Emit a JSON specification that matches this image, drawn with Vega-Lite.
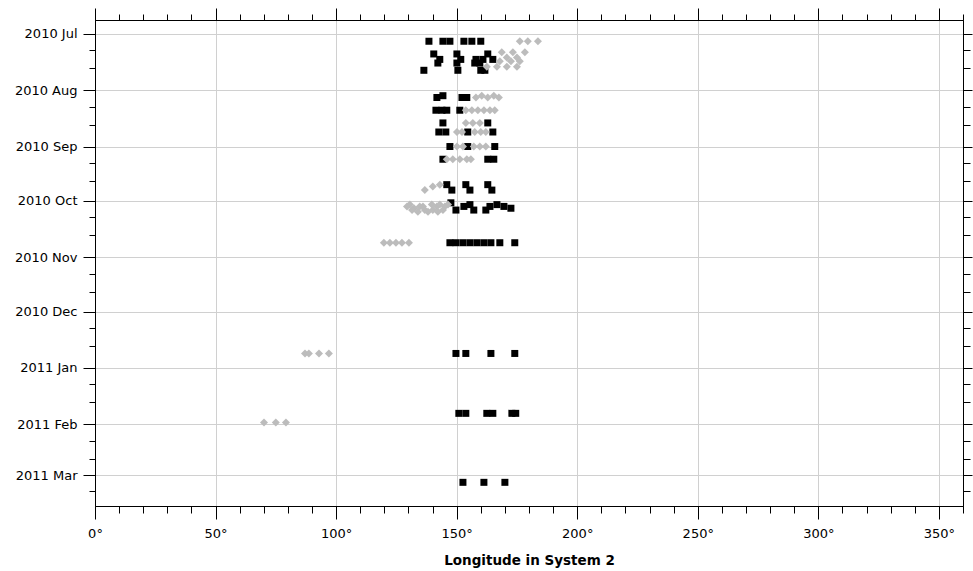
{
  "$schema": "https://vega.github.io/schema/vega-lite/v6.json",
  "width": 868,
  "height": 486,
  "autosize": "none",
  "padding": {"left": 95, "top": 20, "right": 10, "bottom": 65},
  "background": "white",
  "config": {
    "view": {"stroke": "#000000", "strokeWidth": 1},
    "font": "DejaVu Sans",
    "axis": {"labelFont": "DejaVu Sans", "titleFont": "DejaVu Sans", "labelColor": "#000000", "titleColor": "#000000", "domainColor": "#000000", "tickColor": "#000000", "tickWidth": 1}
  },
  "data": {"values": [
    {"series": "A", "longitude": 138.5, "date": "2010-07-05"},
    {"series": "A", "longitude": 144.3, "date": "2010-07-05"},
    {"series": "A", "longitude": 147.2, "date": "2010-07-05"},
    {"series": "A", "longitude": 153.0, "date": "2010-07-05"},
    {"series": "A", "longitude": 156.3, "date": "2010-07-05"},
    {"series": "A", "longitude": 160.0, "date": "2010-07-05"},
    {"series": "A", "longitude": 140.5, "date": "2010-07-12"},
    {"series": "A", "longitude": 150.1, "date": "2010-07-12"},
    {"series": "A", "longitude": 162.9, "date": "2010-07-12"},
    {"series": "A", "longitude": 143.0, "date": "2010-07-15"},
    {"series": "A", "longitude": 151.7, "date": "2010-07-15"},
    {"series": "A", "longitude": 158.0, "date": "2010-07-15"},
    {"series": "A", "longitude": 160.9, "date": "2010-07-15"},
    {"series": "A", "longitude": 165.0, "date": "2010-07-15"},
    {"series": "A", "longitude": 142.2, "date": "2010-07-17"},
    {"series": "A", "longitude": 150.1, "date": "2010-07-17"},
    {"series": "A", "longitude": 157.5, "date": "2010-07-17"},
    {"series": "A", "longitude": 159.6, "date": "2010-07-17"},
    {"series": "A", "longitude": 136.4, "date": "2010-07-21"},
    {"series": "A", "longitude": 150.5, "date": "2010-07-21"},
    {"series": "A", "longitude": 160.0, "date": "2010-07-21"},
    {"series": "A", "longitude": 161.7, "date": "2010-07-21"},
    {"series": "A", "longitude": 141.8, "date": "2010-08-05"},
    {"series": "A", "longitude": 144.3, "date": "2010-08-04"},
    {"series": "A", "longitude": 152.2, "date": "2010-08-05"},
    {"series": "A", "longitude": 154.2, "date": "2010-08-05"},
    {"series": "A", "longitude": 141.4, "date": "2010-08-12"},
    {"series": "A", "longitude": 143.9, "date": "2010-08-12"},
    {"series": "A", "longitude": 145.9, "date": "2010-08-12"},
    {"series": "A", "longitude": 151.3, "date": "2010-08-12"},
    {"series": "A", "longitude": 144.3, "date": "2010-08-19"},
    {"series": "A", "longitude": 162.9, "date": "2010-08-19"},
    {"series": "A", "longitude": 142.6, "date": "2010-08-24"},
    {"series": "A", "longitude": 145.5, "date": "2010-08-24"},
    {"series": "A", "longitude": 154.6, "date": "2010-08-24"},
    {"series": "A", "longitude": 165.0, "date": "2010-08-24"},
    {"series": "A", "longitude": 147.2, "date": "2010-09-01"},
    {"series": "A", "longitude": 154.6, "date": "2010-09-01"},
    {"series": "A", "longitude": 165.8, "date": "2010-09-01"},
    {"series": "A", "longitude": 144.3, "date": "2010-09-08"},
    {"series": "A", "longitude": 162.9, "date": "2010-09-08"},
    {"series": "A", "longitude": 165.4, "date": "2010-09-08"},
    {"series": "A", "longitude": 145.9, "date": "2010-09-22"},
    {"series": "A", "longitude": 148.0, "date": "2010-09-25"},
    {"series": "A", "longitude": 153.8, "date": "2010-09-22"},
    {"series": "A", "longitude": 155.5, "date": "2010-09-25"},
    {"series": "A", "longitude": 162.9, "date": "2010-09-22"},
    {"series": "A", "longitude": 164.6, "date": "2010-09-25"},
    {"series": "A", "longitude": 147.6, "date": "2010-10-02"},
    {"series": "A", "longitude": 149.7, "date": "2010-10-06"},
    {"series": "A", "longitude": 153.0, "date": "2010-10-04"},
    {"series": "A", "longitude": 155.5, "date": "2010-10-03"},
    {"series": "A", "longitude": 157.1, "date": "2010-10-06"},
    {"series": "A", "longitude": 162.1, "date": "2010-10-06"},
    {"series": "A", "longitude": 163.8, "date": "2010-10-04"},
    {"series": "A", "longitude": 166.7, "date": "2010-10-03"},
    {"series": "A", "longitude": 169.6, "date": "2010-10-04"},
    {"series": "A", "longitude": 172.5, "date": "2010-10-05"},
    {"series": "A", "longitude": 147.2, "date": "2010-10-24"},
    {"series": "A", "longitude": 149.7, "date": "2010-10-24"},
    {"series": "A", "longitude": 152.6, "date": "2010-10-24"},
    {"series": "A", "longitude": 155.5, "date": "2010-10-24"},
    {"series": "A", "longitude": 158.4, "date": "2010-10-24"},
    {"series": "A", "longitude": 161.3, "date": "2010-10-24"},
    {"series": "A", "longitude": 164.2, "date": "2010-10-24"},
    {"series": "A", "longitude": 167.9, "date": "2010-10-24"},
    {"series": "A", "longitude": 174.1, "date": "2010-10-24"},
    {"series": "A", "longitude": 149.7, "date": "2010-12-24"},
    {"series": "A", "longitude": 153.8, "date": "2010-12-24"},
    {"series": "A", "longitude": 164.2, "date": "2010-12-24"},
    {"series": "A", "longitude": 174.1, "date": "2010-12-24"},
    {"series": "A", "longitude": 150.9, "date": "2011-01-26"},
    {"series": "A", "longitude": 153.8, "date": "2011-01-26"},
    {"series": "A", "longitude": 162.5, "date": "2011-01-26"},
    {"series": "A", "longitude": 165.0, "date": "2011-01-26"},
    {"series": "A", "longitude": 172.9, "date": "2011-01-26"},
    {"series": "A", "longitude": 174.5, "date": "2011-01-26"},
    {"series": "A", "longitude": 152.6, "date": "2011-03-05"},
    {"series": "A", "longitude": 161.3, "date": "2011-03-05"},
    {"series": "A", "longitude": 170.0, "date": "2011-03-05"},
    {"series": "B", "longitude": 176.2, "date": "2010-07-05"},
    {"series": "B", "longitude": 179.5, "date": "2010-07-05"},
    {"series": "B", "longitude": 183.7, "date": "2010-07-05"},
    {"series": "B", "longitude": 168.7, "date": "2010-07-11"},
    {"series": "B", "longitude": 173.3, "date": "2010-07-11"},
    {"series": "B", "longitude": 178.3, "date": "2010-07-11"},
    {"series": "B", "longitude": 170.8, "date": "2010-07-14"},
    {"series": "B", "longitude": 175.0, "date": "2010-07-14"},
    {"series": "B", "longitude": 167.9, "date": "2010-07-16"},
    {"series": "B", "longitude": 172.5, "date": "2010-07-16"},
    {"series": "B", "longitude": 176.2, "date": "2010-07-16"},
    {"series": "B", "longitude": 162.5, "date": "2010-07-19"},
    {"series": "B", "longitude": 166.7, "date": "2010-07-19"},
    {"series": "B", "longitude": 170.8, "date": "2010-07-19"},
    {"series": "B", "longitude": 175.0, "date": "2010-07-19"},
    {"series": "B", "longitude": 158.0, "date": "2010-08-05"},
    {"series": "B", "longitude": 160.4, "date": "2010-08-04"},
    {"series": "B", "longitude": 162.9, "date": "2010-08-05"},
    {"series": "B", "longitude": 165.4, "date": "2010-08-04"},
    {"series": "B", "longitude": 167.5, "date": "2010-08-05"},
    {"series": "B", "longitude": 153.8, "date": "2010-08-12"},
    {"series": "B", "longitude": 156.3, "date": "2010-08-12"},
    {"series": "B", "longitude": 158.8, "date": "2010-08-12"},
    {"series": "B", "longitude": 161.3, "date": "2010-08-12"},
    {"series": "B", "longitude": 163.8, "date": "2010-08-12"},
    {"series": "B", "longitude": 165.8, "date": "2010-08-12"},
    {"series": "B", "longitude": 153.8, "date": "2010-08-19"},
    {"series": "B", "longitude": 156.7, "date": "2010-08-19"},
    {"series": "B", "longitude": 159.6, "date": "2010-08-19"},
    {"series": "B", "longitude": 150.1, "date": "2010-08-24"},
    {"series": "B", "longitude": 152.2, "date": "2010-08-24"},
    {"series": "B", "longitude": 157.5, "date": "2010-08-24"},
    {"series": "B", "longitude": 160.0, "date": "2010-08-24"},
    {"series": "B", "longitude": 162.1, "date": "2010-08-24"},
    {"series": "B", "longitude": 150.1, "date": "2010-09-01"},
    {"series": "B", "longitude": 152.6, "date": "2010-09-01"},
    {"series": "B", "longitude": 157.1, "date": "2010-09-01"},
    {"series": "B", "longitude": 159.6, "date": "2010-09-01"},
    {"series": "B", "longitude": 162.1, "date": "2010-09-01"},
    {"series": "B", "longitude": 145.9, "date": "2010-09-08"},
    {"series": "B", "longitude": 148.4, "date": "2010-09-08"},
    {"series": "B", "longitude": 151.3, "date": "2010-09-08"},
    {"series": "B", "longitude": 154.2, "date": "2010-09-08"},
    {"series": "B", "longitude": 155.9, "date": "2010-09-08"},
    {"series": "B", "longitude": 136.8, "date": "2010-09-25"},
    {"series": "B", "longitude": 140.1, "date": "2010-09-23"},
    {"series": "B", "longitude": 143.0, "date": "2010-09-22"},
    {"series": "B", "longitude": 130.6, "date": "2010-10-03"},
    {"series": "B", "longitude": 132.3, "date": "2010-10-05"},
    {"series": "B", "longitude": 134.7, "date": "2010-10-04"},
    {"series": "B", "longitude": 136.8, "date": "2010-10-06"},
    {"series": "B", "longitude": 139.7, "date": "2010-10-03"},
    {"series": "B", "longitude": 141.8, "date": "2010-10-04"},
    {"series": "B", "longitude": 143.0, "date": "2010-10-03"},
    {"series": "B", "longitude": 145.1, "date": "2010-10-04"},
    {"series": "B", "longitude": 129.4, "date": "2010-10-04"},
    {"series": "B", "longitude": 131.5, "date": "2010-10-06"},
    {"series": "B", "longitude": 133.9, "date": "2010-10-07"},
    {"series": "B", "longitude": 136.0, "date": "2010-10-04"},
    {"series": "B", "longitude": 138.1, "date": "2010-10-07"},
    {"series": "B", "longitude": 140.1, "date": "2010-10-06"},
    {"series": "B", "longitude": 142.2, "date": "2010-10-07"},
    {"series": "B", "longitude": 144.3, "date": "2010-10-06"},
    {"series": "B", "longitude": 146.4, "date": "2010-10-03"},
    {"series": "B", "longitude": 119.8, "date": "2010-10-24"},
    {"series": "B", "longitude": 122.3, "date": "2010-10-24"},
    {"series": "B", "longitude": 124.8, "date": "2010-10-24"},
    {"series": "B", "longitude": 127.3, "date": "2010-10-24"},
    {"series": "B", "longitude": 130.2, "date": "2010-10-24"},
    {"series": "B", "longitude": 87.1, "date": "2010-12-24"},
    {"series": "B", "longitude": 88.7, "date": "2010-12-24"},
    {"series": "B", "longitude": 92.9, "date": "2010-12-24"},
    {"series": "B", "longitude": 97.0, "date": "2010-12-24"},
    {"series": "B", "longitude": 70.1, "date": "2011-01-31"},
    {"series": "B", "longitude": 75.0, "date": "2011-01-31"},
    {"series": "B", "longitude": 79.2, "date": "2011-01-31"}
  ]},
  "layer": [
    {
      "mark": {"type": "point", "filled": true, "opacity": 1, "strokeWidth": 0},
      "encoding": {
        "x": {
          "field": "longitude", "type": "quantitative",
          "scale": {"domain": [0, 360], "nice": false, "zero": false},
          "axis": {
            "orient": "bottom",
            "values": [0,10,20,30,40,50,60,70,80,90,100,110,120,130,140,150,160,170,180,190,200,210,220,230,240,250,260,270,280,290,300,310,320,330,340,350,360],
            "labelExpr": "datum.value % 50 === 0 && datum.value < 360 ? datum.value + '°' : ''",
            "tickSize": {"condition": {"test": "datum.value % 50 === 0", "value": 13}, "value": 7},
            "grid": true,
            "gridColor": "#d0d0d0",
            "gridOpacity": {"condition": {"test": "datum.value % 50 === 0 && datum.value > 0 && datum.value < 360", "value": 1}, "value": 0},
            "labelFontSize": 13,
            "labelPadding": 8,
            "labelFlush": false,
            "title": "Longitude in System 2",
            "titleFontSize": 13.5,
            "titleFontWeight": "bold",
            "titlePadding": 13
          }
        },
        "y": {
          "field": "date", "type": "temporal",
          "scale": {"type": "utc", "reverse": true, "nice": false,
            "domain": [{"year": 2010, "month": 6, "date": 23, "hours": 7, "utc": true}, {"year": 2011, "month": 3, "date": 18, "hours": 1, "utc": true}]},
          "axis": {
            "orient": "left",
            "values": [
              {"year": 2010, "month": 7, "date": 1, "utc": true},
              {"year": 2010, "month": 7, "date": 10, "utc": true},
              {"year": 2010, "month": 7, "date": 20, "utc": true},
              {"year": 2010, "month": 8, "date": 1, "utc": true},
              {"year": 2010, "month": 8, "date": 10, "utc": true},
              {"year": 2010, "month": 8, "date": 20, "utc": true},
              {"year": 2010, "month": 9, "date": 1, "utc": true},
              {"year": 2010, "month": 9, "date": 10, "utc": true},
              {"year": 2010, "month": 9, "date": 20, "utc": true},
              {"year": 2010, "month": 10, "date": 1, "utc": true},
              {"year": 2010, "month": 10, "date": 10, "utc": true},
              {"year": 2010, "month": 10, "date": 20, "utc": true},
              {"year": 2010, "month": 11, "date": 1, "utc": true},
              {"year": 2010, "month": 11, "date": 10, "utc": true},
              {"year": 2010, "month": 11, "date": 20, "utc": true},
              {"year": 2010, "month": 12, "date": 1, "utc": true},
              {"year": 2010, "month": 12, "date": 10, "utc": true},
              {"year": 2010, "month": 12, "date": 20, "utc": true},
              {"year": 2011, "month": 1, "date": 1, "utc": true},
              {"year": 2011, "month": 1, "date": 10, "utc": true},
              {"year": 2011, "month": 1, "date": 20, "utc": true},
              {"year": 2011, "month": 2, "date": 1, "utc": true},
              {"year": 2011, "month": 2, "date": 10, "utc": true},
              {"year": 2011, "month": 2, "date": 20, "utc": true},
              {"year": 2011, "month": 3, "date": 1, "utc": true},
              {"year": 2011, "month": 3, "date": 10, "utc": true}
            ],
            "labelExpr": "utcdate(datum.value) === 1 ? utcFormat(datum.value, '%Y %b') : ''",
            "tickSize": {"condition": {"test": "utcdate(datum.value) === 1", "value": 12}, "value": 6},
            "grid": true,
            "gridColor": "#d0d0d0",
            "gridOpacity": {"condition": {"test": "utcdate(datum.value) === 1", "value": 1}, "value": 0},
            "labelFontSize": 13,
            "labelPadding": 6,
            "labelFlush": false,
            "labelOverlap": false,
            "title": null
          }
        },
        "color": {"field": "series", "type": "nominal", "legend": null,
          "scale": {"domain": ["A", "B"], "range": ["#000000", "#bcbcbc"]}},
        "shape": {"field": "series", "type": "nominal", "legend": null,
          "scale": {"domain": ["A", "B"], "range": ["square", "diamond"]}},
        "size": {"field": "series", "type": "nominal", "legend": null,
          "scale": {"domain": ["A", "B"], "range": [49, 64]}}
      }
    },
    {
      "mark": {"type": "point", "opacity": 0},
      "encoding": {
        "x": {
          "field": "longitude", "type": "quantitative",
          "axis": {
            "orient": "top",
            "values": [0,10,20,30,40,50,60,70,80,90,100,110,120,130,140,150,160,170,180,190,200,210,220,230,240,250,260,270,280,290,300,310,320,330,340,350,360],
            "labels": false,
            "grid": false,
            "tickSize": {"condition": {"test": "datum.value % 50 === 0", "value": 12}, "value": 6},
            "title": null
          }
        },
        "y": {
          "field": "date", "type": "temporal",
          "axis": {
            "orient": "right",
            "values": [
              {"year": 2010, "month": 7, "date": 1, "utc": true},
              {"year": 2010, "month": 7, "date": 10, "utc": true},
              {"year": 2010, "month": 7, "date": 20, "utc": true},
              {"year": 2010, "month": 8, "date": 1, "utc": true},
              {"year": 2010, "month": 8, "date": 10, "utc": true},
              {"year": 2010, "month": 8, "date": 20, "utc": true},
              {"year": 2010, "month": 9, "date": 1, "utc": true},
              {"year": 2010, "month": 9, "date": 10, "utc": true},
              {"year": 2010, "month": 9, "date": 20, "utc": true},
              {"year": 2010, "month": 10, "date": 1, "utc": true},
              {"year": 2010, "month": 10, "date": 10, "utc": true},
              {"year": 2010, "month": 10, "date": 20, "utc": true},
              {"year": 2010, "month": 11, "date": 1, "utc": true},
              {"year": 2010, "month": 11, "date": 10, "utc": true},
              {"year": 2010, "month": 11, "date": 20, "utc": true},
              {"year": 2010, "month": 12, "date": 1, "utc": true},
              {"year": 2010, "month": 12, "date": 10, "utc": true},
              {"year": 2010, "month": 12, "date": 20, "utc": true},
              {"year": 2011, "month": 1, "date": 1, "utc": true},
              {"year": 2011, "month": 1, "date": 10, "utc": true},
              {"year": 2011, "month": 1, "date": 20, "utc": true},
              {"year": 2011, "month": 2, "date": 1, "utc": true},
              {"year": 2011, "month": 2, "date": 10, "utc": true},
              {"year": 2011, "month": 2, "date": 20, "utc": true},
              {"year": 2011, "month": 3, "date": 1, "utc": true},
              {"year": 2011, "month": 3, "date": 10, "utc": true}
            ],
            "labels": false,
            "grid": false,
            "tickSize": {"condition": {"test": "utcdate(datum.value) === 1", "value": 9}, "value": 7},
            "title": null
          }
        }
      }
    }
  ],
  "resolve": {"axis": {"x": "independent", "y": "independent"}}
}
